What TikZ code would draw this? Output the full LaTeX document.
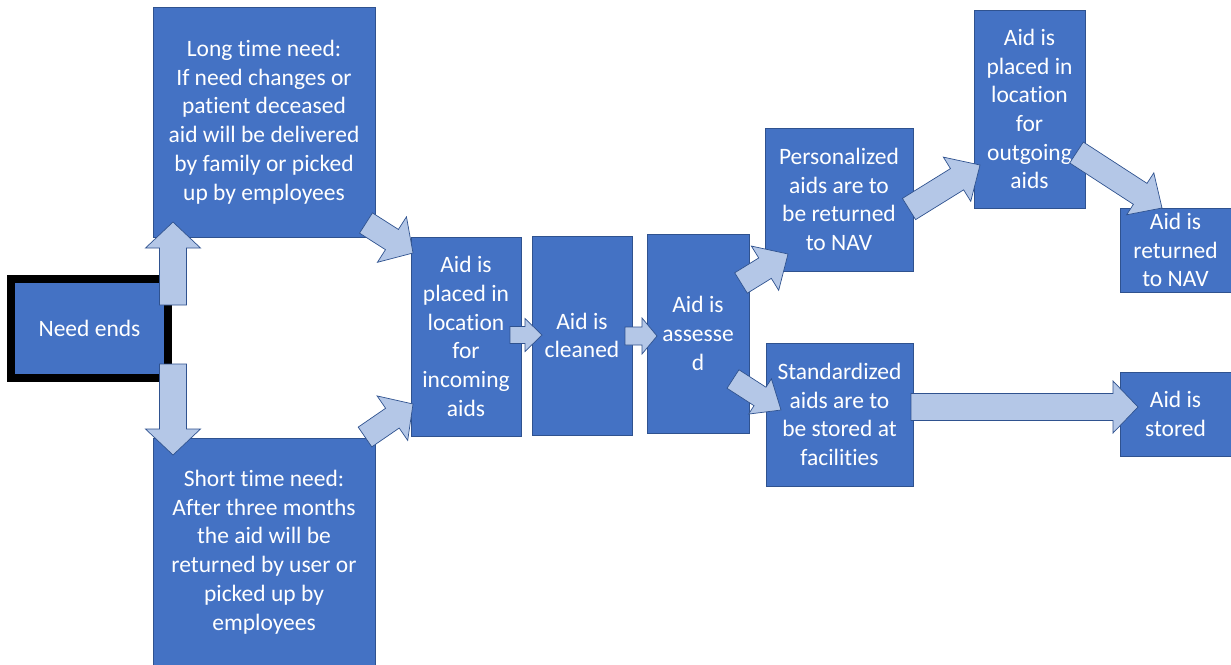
\documentclass[tikz,border=0pt]{standalone}
\usepackage{fontspec}
\setmainfont[Ligatures=NoCommon]{Carlito}
\usetikzlibrary{calc}
\definecolor{boxfill}{HTML}{4472C4}
\definecolor{boxline}{HTML}{2F528F}
\definecolor{arrfill}{HTML}{B4C7E7}
\tikzset{
  box/.style={draw=boxline, line width=0.75pt, fill=boxfill, text=white, align=center,
    inner sep=0pt, font=\fontsize{23.5}{28.7}\selectfont},
  blockarr/.style={draw=boxline, line width=0.7pt, fill=arrfill, line join=miter},
}
% #1 from, #2 to, #3 shaft half width, #4 head half width, #5 head length (in pt)
\newcommand\blockarrow[5]{%
  \coordinate (ba-p) at ($(#2)!#5pt!(#1)$);
  \draw[blockarr] ($(#1)!#3pt!90:(#2)$) -- ($(ba-p)!#3pt!90:(#2)$) -- ($(ba-p)!#4pt!90:(#2)$)
    -- (#2) -- ($(ba-p)!#4pt!-90:(#2)$) -- ($(ba-p)!#3pt!-90:(#2)$) -- ($(#1)!#3pt!-90:(#2)$) -- cycle;}
\begin{document}
\begin{tikzpicture}[x=1pt,y=-1pt]
\useasboundingbox[fill=white] (0,0) rectangle (1231,664);
% boxes
\node[box, minimum width=222pt, minimum height=230pt] (long) at (264,122)
  {Long time need:\\If need changes or\\patient deceased\\aid will be delivered\\by family or picked\\up by employees};
\node[box, minimum width=222pt, minimum height=228pt] (short) at (264,552)
  {Short time need:\\After three months\\the aid will be\\returned by user or\\picked up by\\employees};
\node[box, draw=black, line width=8pt, minimum width=157pt, minimum height=99pt] (need) at (89.5,328.5) {Need ends};
\node[box, minimum width=110pt, minimum height=199pt] (placed) at (466,336.5)
  {Aid is\\placed in\\location\\for\\incoming\\aids};
\node[box, minimum width=100pt, minimum height=199pt] (cleaned) at (582,335.5) {Aid is\\cleaned};
\node[box, minimum width=102pt, minimum height=199pt] (assessed) at (698,333.5) {Aid is\\assesse\\d};
\node[box, minimum width=148pt, minimum height=143pt] (pers) at (839,199.5)
  {Personalized\\aids are to\\be returned\\to NAV};
\node[box, minimum width=147pt, minimum height=143pt] (std) at (839.5,414.5)
  {Standardized\\aids are to\\be stored at\\facilities};
\node[box, minimum width=111pt, minimum height=198pt] (outgoing) at (1029.5,109)
  {Aid is\\placed in\\location\\for\\outgoing\\aids};
\node[box, minimum width=111pt, minimum height=84pt] (returned) at (1175.5,250)
  {Aid is\\returned\\to NAV};
\node[box, minimum width=111pt, minimum height=84pt] (stored) at (1175.5,414)
  {Aid is\\stored};
% arrow end points
\coordinate (upS) at (173,305);   \coordinate (upE) at (173,222);
\coordinate (dnS) at (173,364);   \coordinate (dnE) at (173,455);
\coordinate (l1S) at (366,223);   \coordinate (l1E) at (413,253);
\coordinate (l2S) at (365,437);   \coordinate (l2E) at (413,404);
\coordinate (c1S) at (510,335);   \coordinate (c1E) at (542,335);
\coordinate (c2S) at (625,336);   \coordinate (c2E) at (657,336);
\coordinate (p1S) at (741,283);   \coordinate (p1E) at (788,254);
\coordinate (s1S) at (733,379);   \coordinate (s1E) at (781,410);
\coordinate (p2S) at (909,209);   \coordinate (p2E) at (980,165);
\coordinate (o1S) at (1076.5,152.5); \coordinate (o1E) at (1162,208);
\coordinate (s2S) at (911,407);   \coordinate (s2E) at (1138,407);
% block arrows
\blockarrow{upS}{upE}{13.5}{27.5}{26}
\blockarrow{dnS}{dnE}{13.5}{27.5}{26}
\blockarrow{l1S}{l1E}{12}{27}{25}
\blockarrow{l2S}{l2E}{12}{27}{25}
\blockarrow{c1S}{c1E}{8.5}{16.5}{17}
\blockarrow{c2S}{c2E}{9}{18}{15}
\blockarrow{p1S}{p1E}{12}{26}{27}
\blockarrow{s1S}{s1E}{11}{21}{25}
\blockarrow{p2S}{p2E}{12.5}{26}{27}
\blockarrow{o1S}{o1E}{12.5}{25}{26}
\blockarrow{s2S}{s2E}{13.5}{26}{25}
\end{tikzpicture}
\end{document}
